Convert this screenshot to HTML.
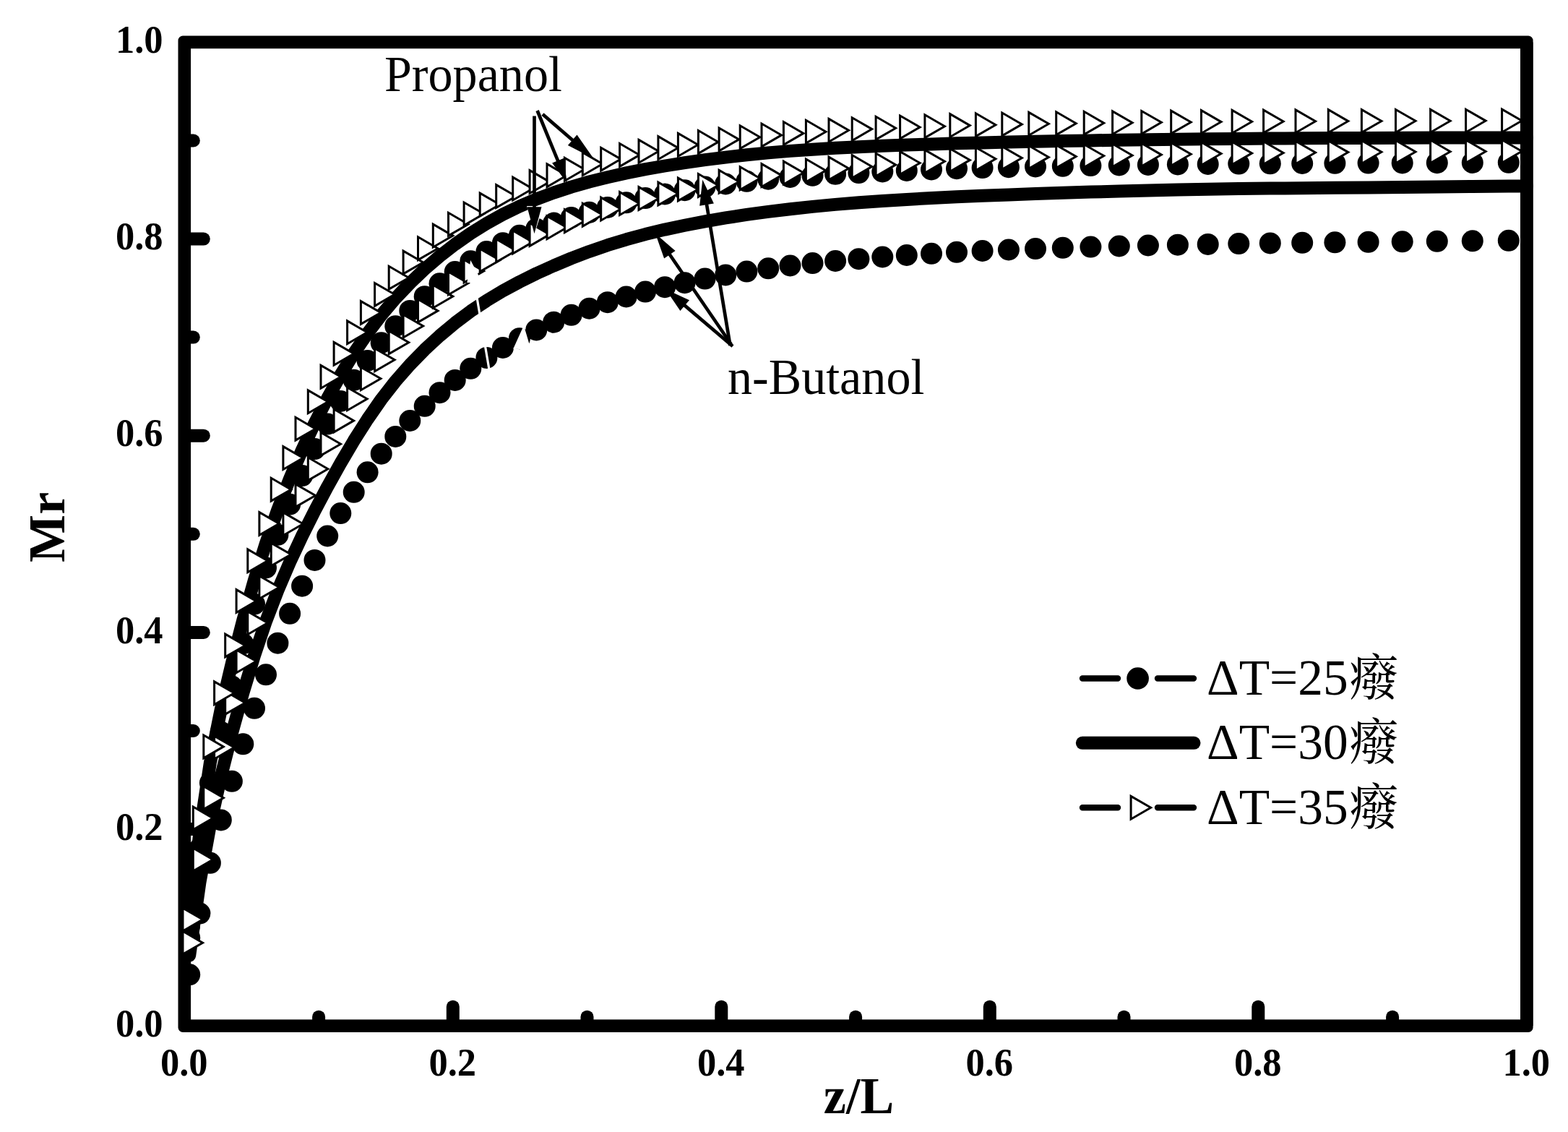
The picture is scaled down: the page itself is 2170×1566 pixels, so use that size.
<!DOCTYPE html>
<html lang="en"><head><meta charset="utf-8"><title>Mr vs z/L</title>
<style>html,body{margin:0;padding:0;background:#fff}svg{display:block}text{font-family:"Liberation Serif","Noto Serif CJK SC",serif;fill:#000}.tk{font-size:54px;font-weight:bold}.ax{font-size:72px;font-weight:bold}.an{font-size:70px}.lg{font-size:70px}.cj{font-size:69px}</style></head><body>
<svg width="2170" height="1566" viewBox="0 0 2170 1566">
<rect width="2170" height="1566" fill="#fff"/>
<rect x="246.5" y="49.6" width="1875.1" height="1378.4" rx="6.5" ry="6.5" fill="#000"/>
<rect x="264.1" y="67.2" width="1839.9" height="1343.2" fill="#fff"/>
<g stroke="#000" stroke-width="18" stroke-linecap="round" fill="none">
<path d="M441.1 1417.2 v-10.5"/>
<path d="M257.3 1283.1 h10.5"/>
<path d="M626.8 1417.2 v-24.5"/>
<path d="M257.3 1147 h24.5"/>
<path d="M812.5 1417.2 v-10.5"/>
<path d="M257.3 1011 h10.5"/>
<path d="M998.3 1417.2 v-24.5"/>
<path d="M257.3 874.9 h24.5"/>
<path d="M1184.1 1417.2 v-10.5"/>
<path d="M257.3 738.8 h10.5"/>
<path d="M1369.8 1417.2 v-24.5"/>
<path d="M257.3 602.7 h24.5"/>
<path d="M1555.5 1417.2 v-10.5"/>
<path d="M257.3 466.6 h10.5"/>
<path d="M1741.3 1417.2 v-24.5"/>
<path d="M257.3 330.6 h24.5"/>
<path d="M1927.1 1417.2 v-10.5"/>
<path d="M257.3 194.5 h10.5"/>
</g>
<g fill="#000">
<circle cx="262.2" cy="1297.3" r="15"/>
<circle cx="276.4" cy="1173.9" r="15"/>
<circle cx="290.9" cy="1083.1" r="15"/>
<circle cx="305.8" cy="1012.7" r="15"/>
<circle cx="320.9" cy="949.5" r="15"/>
<circle cx="336.3" cy="890.5" r="15"/>
<circle cx="352" cy="835.7" r="15"/>
<circle cx="368" cy="785.5" r="15"/>
<circle cx="384.4" cy="739.8" r="15"/>
<circle cx="401.1" cy="697.7" r="15"/>
<circle cx="418.1" cy="658.1" r="15"/>
<circle cx="435.5" cy="621.1" r="15"/>
<circle cx="453.2" cy="586.6" r="15"/>
<circle cx="471.3" cy="554.9" r="15"/>
<circle cx="489.7" cy="525.8" r="15"/>
<circle cx="508.6" cy="499" r="15"/>
<circle cx="527.7" cy="474.2" r="15"/>
<circle cx="547.3" cy="451.2" r="15"/>
<circle cx="567.3" cy="429.9" r="15"/>
<circle cx="587.7" cy="410.2" r="15"/>
<circle cx="608.5" cy="392.3" r="15"/>
<circle cx="629.7" cy="376" r="15"/>
<circle cx="651.3" cy="361.3" r="15"/>
<circle cx="673.4" cy="348" r="15"/>
<circle cx="695.9" cy="336.2" r="15"/>
<circle cx="718.9" cy="325.8" r="15"/>
<circle cx="742.3" cy="316.7" r="15"/>
<circle cx="766.2" cy="308.5" r="15"/>
<circle cx="790.6" cy="301" r="15"/>
<circle cx="815.5" cy="293.8" r="15"/>
<circle cx="840.8" cy="286.9" r="15"/>
<circle cx="866.7" cy="280.3" r="15"/>
<circle cx="893.1" cy="274.1" r="15"/>
<circle cx="920.1" cy="268.4" r="15"/>
<circle cx="947.6" cy="263.2" r="15"/>
<circle cx="975.6" cy="258.6" r="15"/>
<circle cx="1004.2" cy="254.4" r="15"/>
<circle cx="1033.4" cy="250.8" r="15"/>
<circle cx="1063.2" cy="247.7" r="15"/>
<circle cx="1093.5" cy="245" r="15"/>
<circle cx="1124.5" cy="242.8" r="15"/>
<circle cx="1156.1" cy="240.8" r="15"/>
<circle cx="1188.4" cy="239.1" r="15"/>
<circle cx="1221.3" cy="237.5" r="15"/>
<circle cx="1254.8" cy="235.9" r="15"/>
<circle cx="1289" cy="234.5" r="15"/>
<circle cx="1324" cy="233.2" r="15"/>
<circle cx="1359.6" cy="232.1" r="15"/>
<circle cx="1395.9" cy="231.2" r="15"/>
<circle cx="1433" cy="230.5" r="15"/>
<circle cx="1470.8" cy="229.8" r="15"/>
<circle cx="1509.4" cy="229.1" r="15"/>
<circle cx="1548.8" cy="228.5" r="15"/>
<circle cx="1588.9" cy="227.9" r="15"/>
<circle cx="1629.9" cy="227.4" r="15"/>
<circle cx="1671.7" cy="227" r="15"/>
<circle cx="1714.3" cy="226.6" r="15"/>
<circle cx="1757.8" cy="226.3" r="15"/>
<circle cx="1802.2" cy="226" r="15"/>
<circle cx="1847.4" cy="225.8" r="15"/>
<circle cx="1893.6" cy="225.6" r="15"/>
<circle cx="1940.7" cy="225.4" r="15"/>
<circle cx="1988.8" cy="225.2" r="15"/>
<circle cx="2037.8" cy="225" r="15"/>
<circle cx="2087.8" cy="224.8" r="15"/>
</g>
<g fill="#000">
<circle cx="262.2" cy="1348.3" r="15"/>
<circle cx="276.4" cy="1263.6" r="15"/>
<circle cx="290.9" cy="1193.8" r="15"/>
<circle cx="305.8" cy="1134.4" r="15"/>
<circle cx="320.9" cy="1080.8" r="15"/>
<circle cx="336.3" cy="1029.3" r="15"/>
<circle cx="352" cy="979.8" r="15"/>
<circle cx="368" cy="933.3" r="15"/>
<circle cx="384.4" cy="889.7" r="15"/>
<circle cx="401.1" cy="848.8" r="15"/>
<circle cx="418.1" cy="810.7" r="15"/>
<circle cx="435.5" cy="774.9" r="15"/>
<circle cx="453.2" cy="741.5" r="15"/>
<circle cx="471.3" cy="710.1" r="15"/>
<circle cx="489.7" cy="680.8" r="15"/>
<circle cx="508.6" cy="653.3" r="15"/>
<circle cx="527.7" cy="627.7" r="15"/>
<circle cx="547.3" cy="603.9" r="15"/>
<circle cx="567.3" cy="582" r="15"/>
<circle cx="587.7" cy="561.8" r="15"/>
<circle cx="608.5" cy="543.2" r="15"/>
<circle cx="629.7" cy="525.9" r="15"/>
<circle cx="651.3" cy="509.8" r="15"/>
<circle cx="673.4" cy="494.9" r="15"/>
<circle cx="695.9" cy="481" r="15"/>
<circle cx="718.9" cy="468.2" r="15"/>
<circle cx="742.3" cy="456.4" r="15"/>
<circle cx="766.2" cy="445.7" r="15"/>
<circle cx="790.6" cy="435.8" r="15"/>
<circle cx="815.5" cy="426.7" r="15"/>
<circle cx="840.8" cy="418.2" r="15"/>
<circle cx="866.7" cy="410.5" r="15"/>
<circle cx="893.1" cy="403.6" r="15"/>
<circle cx="920.1" cy="397.2" r="15"/>
<circle cx="947.6" cy="391.2" r="15"/>
<circle cx="975.6" cy="385.6" r="15"/>
<circle cx="1004.2" cy="380.4" r="15"/>
<circle cx="1033.4" cy="375.6" r="15"/>
<circle cx="1063.2" cy="371.3" r="15"/>
<circle cx="1093.5" cy="367.5" r="15"/>
<circle cx="1124.5" cy="364.1" r="15"/>
<circle cx="1156.1" cy="361" r="15"/>
<circle cx="1188.4" cy="358.2" r="15"/>
<circle cx="1221.3" cy="355.5" r="15"/>
<circle cx="1254.8" cy="353" r="15"/>
<circle cx="1289" cy="350.8" r="15"/>
<circle cx="1324" cy="348.8" r="15"/>
<circle cx="1359.6" cy="347" r="15"/>
<circle cx="1395.9" cy="345.5" r="15"/>
<circle cx="1433" cy="344.1" r="15"/>
<circle cx="1470.8" cy="342.8" r="15"/>
<circle cx="1509.4" cy="341.6" r="15"/>
<circle cx="1548.8" cy="340.5" r="15"/>
<circle cx="1588.9" cy="339.5" r="15"/>
<circle cx="1629.9" cy="338.7" r="15"/>
<circle cx="1671.7" cy="337.9" r="15"/>
<circle cx="1714.3" cy="337.1" r="15"/>
<circle cx="1757.8" cy="336.4" r="15"/>
<circle cx="1802.2" cy="335.8" r="15"/>
<circle cx="1847.4" cy="335.3" r="15"/>
<circle cx="1893.6" cy="334.8" r="15"/>
<circle cx="1940.7" cy="334.3" r="15"/>
<circle cx="1988.8" cy="333.8" r="15"/>
<circle cx="2037.8" cy="333.3" r="15"/>
<circle cx="2087.8" cy="332.8" r="15"/>
</g>
<polyline points="262.2,1282 276.4,1151.7 290.9,1055.1 305.8,981.4 320.9,917.5 336.3,857.9 352,802.5 368,751.5 384.4,704.9 401.1,662 418.1,622.3 435.5,585.4 453.2,551 471.3,518.8 489.7,488.9 508.6,461.2 527.7,435.9 547.3,412.8 567.3,391.7 587.7,372.3 608.5,354.4 629.7,338 651.3,322.9 673.4,309.2 695.9,296.7 718.9,285.5 742.3,275.5 766.2,266.6 790.6,258.6 815.5,251.5 840.8,245.2 866.7,239.4 893.1,234.2 920.1,229.5 947.6,225.1 975.6,221.2 1004.2,217.6 1033.4,214.3 1063.2,211.4 1093.5,208.9 1124.5,206.7 1156.1,204.8 1188.4,203.2 1221.3,201.7 1254.8,200.5 1289,199.4 1324,198.3 1359.6,197.4 1395.9,196.5 1433,195.7 1470.8,195 1509.4,194.4 1548.8,193.7 1588.9,193.2 1629.9,192.7 1671.7,192.3 1714.3,191.9 1757.8,191.6 1802.2,191.3 1847.4,191.1 1893.6,190.9 1940.7,190.8 1988.8,190.6 2037.8,190.5 2087.8,190.4 2112.8,190.4" fill="none" stroke="#000" stroke-width="18" stroke-linecap="round" stroke-linejoin="round"/>
<polyline points="262.2,1321.8 276.4,1221 290.9,1140.9 305.8,1074.1 320.9,1014.4 336.3,958.7 352,907 368,859.5 384.4,816.8 401.1,777.8 418.1,741.4 435.5,706.8 453.2,673.3 471.3,640.9 489.7,609.7 508.6,580 527.7,552.5 547.3,527.4 567.3,504.6 587.7,483.7 608.5,464.5 629.7,446.8 651.3,430.6 673.4,415.9 695.9,402.4 718.9,390 742.3,378.4 766.2,367.6 790.6,357.4 815.5,347.9 840.8,339.2 866.7,331.3 893.1,324.1 920.1,317.6 947.6,311.7 975.6,306.3 1004.2,301.4 1033.4,296.9 1063.2,292.9 1093.5,289.2 1124.5,285.9 1156.1,282.9 1188.4,280.3 1221.3,278 1254.8,275.9 1289,274 1324,272.3 1359.6,270.8 1395.9,269.4 1433,268 1470.8,266.8 1509.4,265.6 1548.8,264.5 1588.9,263.4 1629.9,262.5 1671.7,261.8 1714.3,261.1 1757.8,260.6 1802.2,260.2 1847.4,259.8 1893.6,259.4 1940.7,259 1988.8,258.5 2037.8,258 2087.8,257.5 2112.8,257.5" fill="none" stroke="#000" stroke-width="18" stroke-linecap="round" stroke-linejoin="round"/>
<g fill="#fff" stroke="#000" stroke-width="3" stroke-linejoin="miter" stroke-miterlimit="10">
<path d="M253 1288.3v31.8L280.5 1304.2z"/>
<path d="M267.3 1173.2v31.8L294.8 1189.1z"/>
<path d="M281.8 1087.8v31.8L309.3 1103.7z"/>
<path d="M296.6 1018.2v31.8L324.1 1034z"/>
<path d="M311.7 956.3v31.8L339.2 972.2z"/>
<path d="M327.1 898.9v31.8L354.6 914.8z"/>
<path d="M342.8 845.9v31.8L370.3 861.8z"/>
<path d="M358.9 796.6v31.8L386.4 812.5z"/>
<path d="M375.2 751.1v31.8L402.7 767z"/>
<path d="M391.9 708.9v31.8L419.4 724.8z"/>
<path d="M409 669.6v31.8L436.5 685.5z"/>
<path d="M426.3 632.8v31.8L453.8 648.7z"/>
<path d="M444 598.3v31.8L471.5 614.2z"/>
<path d="M462.1 566v31.8L489.6 581.9z"/>
<path d="M480.6 535.9v31.8L508.1 551.8z"/>
<path d="M499.4 507.9v31.8L526.9 523.8z"/>
<path d="M518.6 481.9v31.8L546.1 497.8z"/>
<path d="M538.2 457.8v31.8L565.7 473.7z"/>
<path d="M558.1 435.2v31.8L585.6 451z"/>
<path d="M578.5 414v31.8L606 429.9z"/>
<path d="M599.3 394.2v31.8L626.8 410.1z"/>
<path d="M620.5 375.9v31.8L648 391.8z"/>
<path d="M642.1 359.2v31.8L669.6 375.1z"/>
<path d="M664.2 344.1v31.8L691.7 360z"/>
<path d="M686.7 330.8v31.8L714.2 346.7z"/>
<path d="M709.7 319v31.8L737.2 334.9z"/>
<path d="M733.1 308.5v31.8L760.6 324.4z"/>
<path d="M757 298.9v31.8L784.5 314.7z"/>
<path d="M781.4 289.8v31.8L808.9 305.7z"/>
<path d="M806.3 281.3v31.8L833.8 297.2z"/>
<path d="M831.7 273.2v31.8L859.2 289.1z"/>
<path d="M857.6 265.7v31.8L885.1 281.6z"/>
<path d="M884 258.6v31.8L911.5 274.5z"/>
<path d="M910.9 252.1v31.8L938.4 268z"/>
<path d="M938.4 246.1v31.8L965.9 262z"/>
<path d="M966.4 240.5v31.8L993.9 256.4z"/>
<path d="M995.1 235.4v31.8L1022.6 251.3z"/>
<path d="M1024.2 230.8v31.8L1051.7 246.7z"/>
<path d="M1054 226.7v31.8L1081.5 242.6z"/>
<path d="M1084.4 223.2v31.8L1111.9 239z"/>
<path d="M1115.4 220v31.8L1142.9 235.9z"/>
<path d="M1147 217.1v31.8L1174.5 233z"/>
<path d="M1179.2 214.5v31.8L1206.7 230.4z"/>
<path d="M1212.1 212v31.8L1239.6 227.9z"/>
<path d="M1245.6 209.6v31.8L1273.1 225.5z"/>
<path d="M1279.9 207.4v31.8L1307.4 223.3z"/>
<path d="M1314.8 205.6v31.8L1342.3 221.4z"/>
<path d="M1350.4 204v31.8L1377.9 219.8z"/>
<path d="M1386.8 202.6v31.8L1414.3 218.5z"/>
<path d="M1423.8 201.5v31.8L1451.3 217.4z"/>
<path d="M1461.7 200.6v31.8L1489.2 216.5z"/>
<path d="M1500.2 199.8v31.8L1527.7 215.6z"/>
<path d="M1539.6 199v31.8L1567.1 214.9z"/>
<path d="M1579.8 198.2v31.8L1607.3 214.1z"/>
<path d="M1620.7 197.4v31.8L1648.2 213.3z"/>
<path d="M1662.5 196.7v31.8L1690 212.6z"/>
<path d="M1705.1 196.1v31.8L1732.6 211.9z"/>
<path d="M1748.6 195.6v31.8L1776.1 211.4z"/>
<path d="M1793 195.1v31.8L1820.5 211z"/>
<path d="M1838.3 194.8v31.8L1865.8 210.6z"/>
<path d="M1884.4 194.4v31.8L1911.9 210.3z"/>
<path d="M1931.5 194.1v31.8L1959 210z"/>
<path d="M1979.6 193.8v31.8L2007.1 209.7z"/>
<path d="M2028.6 193.6v31.8L2056.1 209.5z"/>
<path d="M2078.6 193.5v31.8L2106.1 209.3z"/>
</g>
<g fill="#fff" stroke="#000" stroke-width="3" stroke-linejoin="miter" stroke-miterlimit="10">
<path d="M253 1256.2v31.8L280.5 1272z"/>
<path d="M267.3 1116v31.8L294.8 1131.9z"/>
<path d="M281.8 1017v31.8L309.3 1032.9z"/>
<path d="M296.6 942.9v31.8L324.1 958.8z"/>
<path d="M311.7 877.1v31.8L339.2 893z"/>
<path d="M327.1 815.7v31.8L354.6 831.6z"/>
<path d="M342.8 759.9v31.8L370.3 775.8z"/>
<path d="M358.9 708.6v31.8L386.4 724.4z"/>
<path d="M375.2 661.3v31.8L402.7 677.2z"/>
<path d="M391.9 617.7v31.8L419.4 633.5z"/>
<path d="M409 577.3v31.8L436.5 593.2z"/>
<path d="M426.3 539.9v31.8L453.8 555.8z"/>
<path d="M444 505.4v31.8L471.5 521.2z"/>
<path d="M462.1 473.4v31.8L489.6 489.3z"/>
<path d="M480.6 443.9v31.8L508.1 459.8z"/>
<path d="M499.4 416.6v31.8L526.9 432.5z"/>
<path d="M518.6 391.5v31.8L546.1 407.3z"/>
<path d="M538.2 368.3v31.8L565.7 384.2z"/>
<path d="M558.1 347.1v31.8L585.6 363z"/>
<path d="M578.5 327.8v31.8L606 343.7z"/>
<path d="M599.3 310.2v31.8L626.8 326.1z"/>
<path d="M620.5 294.3v31.8L648 310.2z"/>
<path d="M642.1 280v31.8L669.6 295.8z"/>
<path d="M664.2 267.1v31.8L691.7 283z"/>
<path d="M686.7 255.6v31.8L714.2 271.5z"/>
<path d="M709.7 245.2v31.8L737.2 261.1z"/>
<path d="M733.1 235.7v31.8L760.6 251.6z"/>
<path d="M757 226.8v31.8L784.5 242.6z"/>
<path d="M781.4 218.4v31.8L808.9 234.3z"/>
<path d="M806.3 210.9v31.8L833.8 226.8z"/>
<path d="M831.7 204.3v31.8L859.2 220.1z"/>
<path d="M857.6 198.5v31.8L885.1 214.4z"/>
<path d="M884 193.4v31.8L911.5 209.2z"/>
<path d="M910.9 188.7v31.8L938.4 204.6z"/>
<path d="M938.4 184.4v31.8L965.9 200.3z"/>
<path d="M966.4 180.5v31.8L993.9 196.4z"/>
<path d="M995.1 177v31.8L1022.6 192.9z"/>
<path d="M1024.2 173.8v31.8L1051.7 189.7z"/>
<path d="M1054 171v31.8L1081.5 186.9z"/>
<path d="M1084.4 168.5v31.8L1111.9 184.4z"/>
<path d="M1115.4 166.3v31.8L1142.9 182.2z"/>
<path d="M1147 164.4v31.8L1174.5 180.3z"/>
<path d="M1179.2 162.8v31.8L1206.7 178.6z"/>
<path d="M1212.1 161.3v31.8L1239.6 177.2z"/>
<path d="M1245.6 160v31.8L1273.1 175.9z"/>
<path d="M1279.9 158.8v31.8L1307.4 174.7z"/>
<path d="M1314.8 157.7v31.8L1342.3 173.6z"/>
<path d="M1350.4 156.8v31.8L1377.9 172.7z"/>
<path d="M1386.8 156v31.8L1414.3 171.9z"/>
<path d="M1423.8 155.4v31.8L1451.3 171.2z"/>
<path d="M1461.7 154.8v31.8L1489.2 170.7z"/>
<path d="M1500.2 154.3v31.8L1527.7 170.2z"/>
<path d="M1539.6 153.9v31.8L1567.1 169.7z"/>
<path d="M1579.8 153.5v31.8L1607.3 169.3z"/>
<path d="M1620.7 153.1v31.8L1648.2 169z"/>
<path d="M1662.5 152.7v31.8L1690 168.6z"/>
<path d="M1705.1 152.4v31.8L1732.6 168.3z"/>
<path d="M1748.6 152.1v31.8L1776.1 168z"/>
<path d="M1793 151.9v31.8L1820.5 167.8z"/>
<path d="M1838.3 151.7v31.8L1865.8 167.6z"/>
<path d="M1884.4 151.6v31.8L1911.9 167.5z"/>
<path d="M1931.5 151.5v31.8L1959 167.3z"/>
<path d="M1979.6 151.4v31.8L2007.1 167.2z"/>
<path d="M2028.6 151.3v31.8L2056.1 167.1z"/>
<path d="M2078.6 151.2v31.8L2106.1 167z"/>
</g>
<rect x="2104" y="58.4" width="17.6" height="1360.8" fill="#000"/>
<text class="tk" transform="translate(225.6 1433.8) scale(0.973 1)" text-anchor="end">0.0</text>
<text class="tk" transform="translate(254.8 1488) scale(0.973 1)" text-anchor="middle">0.0</text>
<text class="tk" transform="translate(225.6 1161.6) scale(0.973 1)" text-anchor="end">0.2</text>
<text class="tk" transform="translate(626.3 1488) scale(0.973 1)" text-anchor="middle">0.2</text>
<text class="tk" transform="translate(225.6 889.5) scale(0.973 1)" text-anchor="end">0.4</text>
<text class="tk" transform="translate(997.8 1488) scale(0.973 1)" text-anchor="middle">0.4</text>
<text class="tk" transform="translate(225.6 617.3) scale(0.973 1)" text-anchor="end">0.6</text>
<text class="tk" transform="translate(1369.3 1488) scale(0.973 1)" text-anchor="middle">0.6</text>
<text class="tk" transform="translate(225.6 345.2) scale(0.973 1)" text-anchor="end">0.8</text>
<text class="tk" transform="translate(1740.8 1488) scale(0.973 1)" text-anchor="middle">0.8</text>
<text class="tk" transform="translate(225.6 73) scale(0.973 1)" text-anchor="end">1.0</text>
<text class="tk" transform="translate(2112.3 1488) scale(0.973 1)" text-anchor="middle">1.0</text>
<text class="ax" transform="translate(1188.5 1540) scale(0.973 1)" text-anchor="middle">z/L</text>
<text class="ax" transform="translate(88.5 729.3) rotate(-90) scale(0.973 1)" text-anchor="middle">Mr</text>
<text class="an" transform="translate(532 126) scale(0.973 1)">Propanol</text>
<text class="an" transform="translate(1007 544.5) scale(0.973 1)">n-Butanol</text>
<line x1="678.5" y1="520" x2="655.9" y2="387.6" stroke="#fff" stroke-width="3.2"/>
<polygon points="651.2,360 666.1,387.9 646.4,391.3" fill="#fff"/>
<line x1="720" y1="520" x2="722.7" y2="481.2" stroke="#fff" stroke-width="3.2"/>
<polygon points="724.9,450.3 734.9,484.1 710.3,482.4" fill="#fff"/>
<line x1="740.5" y1="300" x2="740.5" y2="287" stroke="#fff" stroke-width="0"/>
<polygon points="740.5,321 729,285 752,285" fill="#fff"/>
<line x1="739.5" y1="160.6" x2="739.5" y2="288.2" stroke="#000" stroke-width="4.7"/>
<polygon points="739.5,323.2 729.5,286.2 749.5,286.2" fill="#000"/>
<line x1="743.6" y1="153" x2="772.8" y2="224.2" stroke="#000" stroke-width="4.7"/>
<polygon points="784.8,253.3 764.1,225.6 780,219" fill="#000"/>
<line x1="751" y1="158" x2="793.7" y2="195.1" stroke="#000" stroke-width="4.7"/>
<polygon points="821.4,219.2 785.9,201.1 798.5,186.6" fill="#000"/>
<line x1="1010.5" y1="478" x2="977.7" y2="281.2" stroke="#000" stroke-width="4.7"/>
<polygon points="972.3,248.6 987.9,281.5 968.2,284.8" fill="#000"/>
<line x1="1012" y1="476.5" x2="925.7" y2="350.5" stroke="#000" stroke-width="4.7"/>
<polygon points="907.1,323.3 934.6,346.9 919.1,357.5" fill="#000"/>
<line x1="1014" y1="479" x2="946.2" y2="421.4" stroke="#000" stroke-width="4.7"/>
<polygon points="921,400 954,415.3 941.4,430.1" fill="#000"/>
<g stroke="#000" stroke-linecap="round" fill="none">
<path d="M1498 938.5 H1547 M1602 938.5 H1652" stroke-width="8.4"/>
<path d="M1498 1117.3 H1547 M1602 1117.3 H1652" stroke-width="8.4"/>
<path d="M1497.8 1027.8 H1652.5" stroke-width="18"/>
</g>
<circle cx="1574.6" cy="938.5" r="15.3" fill="#000"/>
<path d="M1565.1 1101.4v31.8L1592.6 1117.3z" fill="#fff" stroke="#000" stroke-width="3" stroke-miterlimit="10"/>
<text class="lg" transform="translate(1670 960.8) scale(0.992 1)">ΔT=25<tspan class="cj" dx="1.3" dy="1">癈</tspan></text>
<text class="lg" transform="translate(1670 1050.4) scale(0.992 1)">ΔT=30<tspan class="cj" dx="1.3" dy="1">癈</tspan></text>
<text class="lg" transform="translate(1670 1140) scale(0.992 1)">ΔT=35<tspan class="cj" dx="1.3" dy="1">癈</tspan></text>
</svg></body></html>
